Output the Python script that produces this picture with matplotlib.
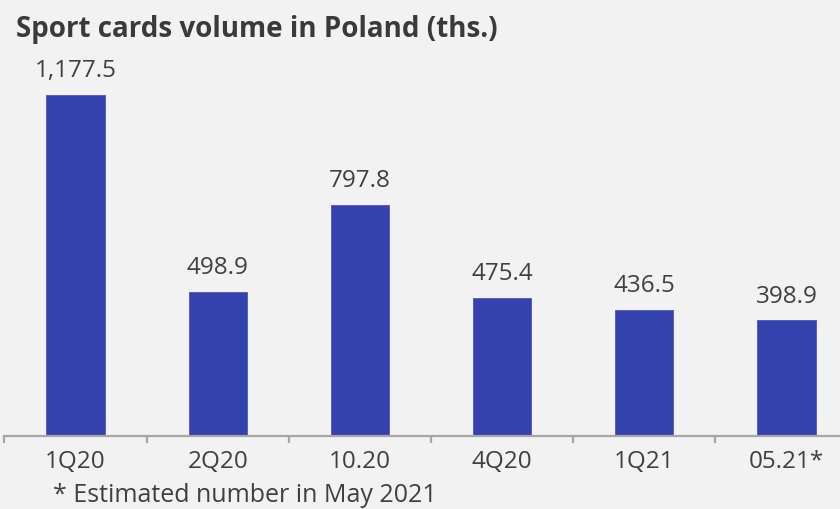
import numpy as np
import matplotlib
matplotlib.use("Agg")
import matplotlib.pyplot as plt

categories = ["1Q20", "2Q20", "10.20", "4Q20", "1Q21", "05.21*"]
volumes = [1177.5, 498.9, 797.8, 475.4, 436.5, 398.9]
value_labels = ["1,177.5", "498.9", "797.8", "475.4", "436.5", "398.9"]
title = "Sport cards volume in Poland (ths.)"
footnote = "* Estimated number in May 2021"

BG, BAR, TXT, AXC = "#f2f2f2", "#3542ad", "#404040", "#a6a6a6"
plt.rcParams["font.family"] = ["Open Sans", "DejaVu Sans"]

fig = plt.figure(figsize=(8.4, 5.09), dpi=100, facecolor=BG)
# axes: left at x=4.4px, right at 840px, bottom at y=436px, top at y=60px
ax = fig.add_axes([4.4/840, (509-436)/509, (840-4.4)/840, (436-60)/509])
ax.set_facecolor(BG)
x = np.arange(len(categories))
bars = ax.bar(x, volumes, width=0.41, color=BAR, edgecolor="#4a57c0", linewidth=0.6, zorder=2)
for b, lab in zip(bars, value_labels):
    ax.text(b.get_x()+b.get_width()/2, b.get_height()+62, lab, ha="center", va="baseline",
            fontsize=17.5, color=TXT, clip_on=False)

ax.set_xlim(-0.5, 5.376)
ax.set_ylim(0, 1177.5 + (95-60)/0.2896)
for s in ["top", "right", "left"]:
    ax.spines[s].set_visible(False)
ax.spines["bottom"].set_color(AXC); ax.spines["bottom"].set_linewidth(1.6)
ax.set_yticks([])
ax.set_xticks(x); ax.set_xticklabels(categories, fontsize=17.5, color=TXT)
ax.tick_params(axis="x", which="major", length=0, pad=10)
ax.set_xticks(np.arange(-0.5, 5.5, 1.0), minor=True)
ax.tick_params(axis="x", which="minor", length=5, width=1.6, color=AXC, direction="out")

fig.text(16/840, 1-37/509, title, fontsize=20, fontweight="bold", color="#3a3a3a", ha="left", va="baseline")
fig.text(53/840, 1/509, footnote, fontsize=18, color=TXT, ha="left", va="bottom")

fig.savefig("out.png", dpi=100, facecolor=BG)
